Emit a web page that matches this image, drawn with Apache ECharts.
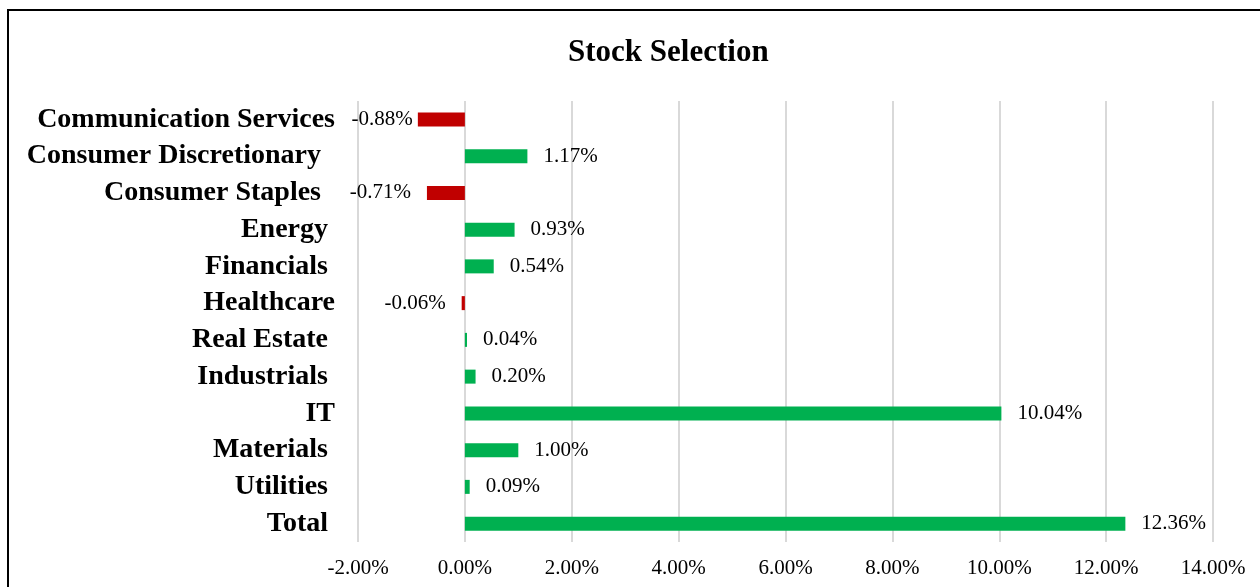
<!DOCTYPE html>
<html>
<head>
<meta charset="utf-8">
<script src="https://cdn.jsdelivr.net/npm/echarts@6/dist/echarts.min.js"></script>
<style>
html,body{margin:0;padding:0;background:#fff;}
#chart{width:1260px;height:587px;}
</style>
</head>
<body>
<div id="chart"></div>
<script>
// Categories (trailing spaces as in the source labels)
const categories = [
  "Communication Services",
  "Consumer Discretionary  ",
  "Consumer Staples  ",
  "Energy ",
  "Financials ",
  "Healthcare",
  "Real Estate ",
  "Industrials ",
  "IT",
  "Materials ",
  "Utilities ",
  "Total "
];
// Stock selection effect, in percent
const values = [-0.88, 1.17, -0.71, 0.93, 0.54, -0.06, 0.04, 0.20, 10.04, 1.00, 0.09, 12.36];
// x-axis ticks
const axisMin = -2, axisMax = 14, axisStep = 2;

const FONT = "'Liberation Serif','Times New Roman',serif";
const POS = '#00B050', NEG = '#C00000';

const chart = echarts.init(document.getElementById('chart'), null, {renderer: 'canvas'});
chart.setOption({
  backgroundColor: '#fff',
  animation: false,
  title: {
    text: 'Stock Selection',
    left: 563,
    top: 32,
    textStyle: {fontFamily: FONT, fontSize: 31, fontWeight: 'bold', color: '#000'}
  },
  graphic: [{
    type: 'rect',
    shape: {x: 8, y: 10, width: 1300, height: 640},
    style: {fill: 'none', stroke: '#000', lineWidth: 2},
    silent: true,
    z: 100
  }],
  grid: {left: 358, right: 47, top: 101, bottom: 45, containLabel: false},
  xAxis: {
    type: 'value',
    min: axisMin, max: axisMax, interval: axisStep,
    axisLine: {show: false},
    axisTick: {show: false},
    splitLine: {show: true, lineStyle: {color: '#d9d9d9', width: 2}},
    axisLabel: {
      fontFamily: FONT, fontSize: 21, color: '#000', margin: 16,
      formatter: v => v.toFixed(2) + '%'
    }
  },
  yAxis: {
    type: 'category',
    inverse: true,
    data: categories,
    axisLine: {show: false},
    axisTick: {show: false},
    axisLabel: {
      fontFamily: FONT, fontSize: 28, fontWeight: 'bold', color: '#000', margin: 23,
      padding: [3, 0, 0, 0]
    }
  },
  series: [{
    type: 'bar',
    barWidth: 14,
    data: values.map(v => ({
      value: v,
      itemStyle: {color: v >= 0 ? POS : NEG},
      // labels that would leave the plot area are pulled in toward the bar
      label: {position: v >= 0 ? 'right' : 'left', distance: v < -0.8 ? 5 : 16}
    })),
    label: {
      show: true,
      fontFamily: FONT, fontSize: 21, color: '#000',
      padding: [3, 0, 0, 0],
      formatter: p => p.value.toFixed(2) + '%'
    }
  }]
});
</script>
</body>
</html>
